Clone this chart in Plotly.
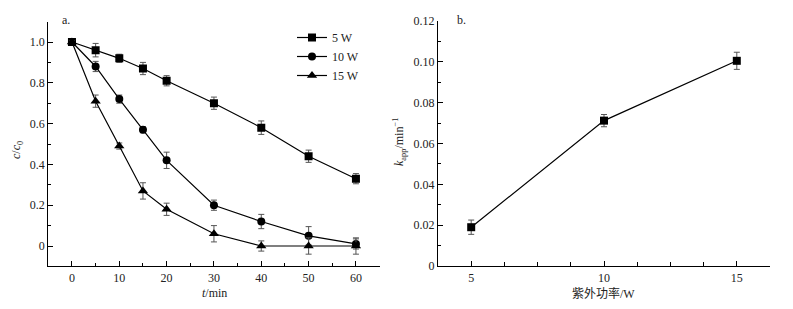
import plotly.graph_objects as go

# Panel a data
t_min = [0, 5, 10, 15, 20, 30, 40, 50, 60]
c_5w = [1.0, 0.96, 0.92, 0.87, 0.81, 0.70, 0.58, 0.44, 0.33]
c_5w_err = [0.005, 0.033, 0.02, 0.03, 0.025, 0.03, 0.033, 0.03, 0.025]
c_10w = [1.0, 0.88, 0.72, 0.57, 0.42, 0.20, 0.12, 0.05, 0.01]
c_10w_err = [0.005, 0.025, 0.02, 0.015, 0.04, 0.025, 0.035, 0.045, 0.025]
c_15w = [1.0, 0.71, 0.49, 0.27, 0.18, 0.06, 0.0, 0.0, 0.0]
c_15w_err = [0.005, 0.03, 0.015, 0.04, 0.03, 0.04, 0.025, 0.04, 0.04]
series_names = ["5 W", "10 W", "15 W"]

# Panel b data
uv_power = [5, 10, 15]
k_app = [0.019, 0.0712, 0.1005]
k_app_err = [0.0035, 0.003, 0.0042]

FONT = "Liberation Serif, Times New Roman, serif"
BLACK = "#000000"
ERRC = "#555555"

W, H, OFF = 785, 301, 8  # page body margin offsets the figure by 8px


def px(p):
    return (p - OFF) / W


def py(p):
    return 1 - (p - OFF) / H


fig = go.Figure()
symbols = ["square", "circle", "triangle-up"]
sizes = [8, 8, 9]
for name, ys, es, sym, sz in zip(series_names, [c_5w, c_10w, c_15w],
                                 [c_5w_err, c_10w_err, c_15w_err], symbols, sizes):
    fig.add_trace(go.Scatter(
        x=t_min, y=ys, name=name, mode="lines+markers",
        line=dict(color=BLACK, width=1.2),
        marker=dict(symbol=sym, size=sz, color=BLACK),
        error_y=dict(type="data", array=es, visible=True, color=ERRC, thickness=1, width=3),
        xaxis="x", yaxis="y"))

fig.add_trace(go.Scatter(
    x=uv_power, y=k_app, mode="lines+markers", showlegend=False,
    line=dict(color=BLACK, width=1.2),
    marker=dict(symbol="square", size=8, color=BLACK),
    error_y=dict(type="data", array=k_app_err, visible=True, color=ERRC, thickness=1, width=3),
    xaxis="x2", yaxis="y2"))

axis_common = dict(showline=True, linecolor=BLACK, linewidth=1.2, showgrid=False,
                   zeroline=False, ticks="inside", ticklen=5, tickcolor=BLACK,
                   tickfont=dict(family=FONT, size=12, color="#222"), mirror=False,
                   automargin=False)

fig.update_layout(
    width=W, height=H,
    margin=dict(l=0, r=0, t=0, b=0, autoexpand=False),
    paper_bgcolor="white", plot_bgcolor="white",
    font=dict(family=FONT, size=12, color="#222"),
    xaxis=dict(axis_common, domain=[px(48.3), px(379.6)], range=[-5, 65], dtick=10,
               tick0=0, minor=dict(dtick=5, ticks="inside", ticklen=3, tickcolor=BLACK),
               anchor="y"),
    yaxis=dict(axis_common, domain=[py(266.4), py(21.6)], range=[-0.1, 1.1],
               tickvals=[0, 0.2, 0.4, 0.6, 0.8, 1.0], ticktext=["0", "0.2", "0.4", "0.6", "0.8", "1.0"],
               minor=dict(tickvals=[-0.1, 0.1, 0.3, 0.5, 0.7, 0.9, 1.1], ticks="inside", ticklen=3, tickcolor=BLACK),
               anchor="x"),
    xaxis2=dict(axis_common, domain=[px(438), px(770)], range=[3.75, 16.25],
                tickvals=[5, 10, 15], ticktext=["5", "10", "15"],
                minor=dict(tickvals=[3.75, 6.25, 7.5, 8.75, 11.25, 12.5, 13.75, 16.25],
                           ticks="inside", ticklen=4, tickcolor=BLACK),
                anchor="y2"),
    yaxis2=dict(axis_common, domain=[py(266), py(21)], range=[0, 0.12],
                tickvals=[0, 0.02, 0.04, 0.06, 0.08, 0.10, 0.12],
                ticktext=["0", "0.02", "0.04", "0.06", "0.08", "0.10", "0.12"],
                minor=dict(tickvals=[0.01, 0.03, 0.05, 0.07, 0.09, 0.11], ticks="inside", ticklen=3, tickcolor=BLACK),
                anchor="x2"),
    legend=dict(x=px(292), y=py(23), xanchor="left", yanchor="top",
                bgcolor="rgba(0,0,0,0)", font=dict(family=FONT, size=12, color="#222"),
                itemwidth=30, tracegroupgap=0),
    showlegend=True,
)

ann = [
    dict(x=60, y=20, text="a.", xanchor="left", yanchor="middle"),
    dict(x=455, y=20, text="b.", xanchor="left", yanchor="middle"),
    dict(x=214, y=293, text="<i>t</i>/min", xanchor="center", yanchor="middle"),
    dict(x=603, y=293, text="紫外功率/W", xanchor="center", yanchor="middle",
         font=dict(family="Liberation Serif, Noto Sans CJK SC", size=12, color="#222")),
    dict(x=17, y=150, text="<i>c</i>/<i>c</i><sub>0</sub>", xanchor="center", yanchor="middle", textangle=-90),
    dict(x=399, y=142, text="<i>k</i><sub>app</sub>/min<sup>−1</sup>", xanchor="center", yanchor="middle", textangle=-90),
]
for a in ann:
    fig.add_annotation(xref="paper", yref="paper", x=px(a["x"]), y=py(a["y"]),
                       text=a["text"], showarrow=False, xanchor=a["xanchor"], yanchor=a["yanchor"],
                       textangle=a.get("textangle", 0),
                       font=a.get("font", dict(family=FONT, size=12, color="#222")))

fig.write_html("out.html")
